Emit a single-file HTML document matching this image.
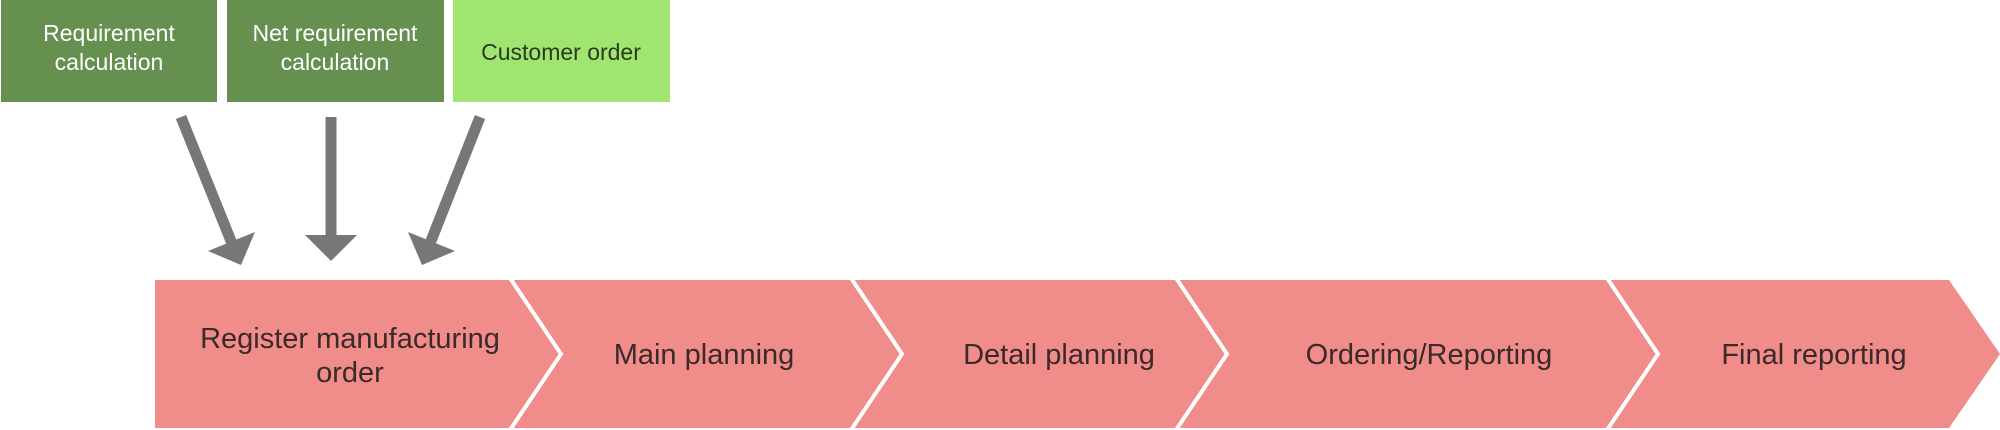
<!DOCTYPE html>
<html><head><meta charset="utf-8"><style>
html,body{margin:0;padding:0;background:#fff;width:2000px;height:430px;overflow:hidden}
svg text{font-family:"Liberation Sans",sans-serif}
</style></head><body>
<svg width="2000" height="430" viewBox="0 0 2000 430">
<rect x="1" y="0" width="216" height="102" fill="#66904f"/>
<rect x="227" y="0" width="217" height="102" fill="#66904f"/>
<rect x="453" y="0" width="217" height="102" fill="#9fe570"/>
<g font-size="23" text-anchor="middle" fill="#fff">
<text x="109" y="41">Requirement</text><text x="109" y="70">calculation</text>
<text x="335" y="41">Net requirement</text><text x="335" y="70">calculation</text>
</g>
<text x="561" y="60" font-size="23" text-anchor="middle" fill="#2b3a1f">Customer order</text>
<g stroke="#777" stroke-width="11" fill="none">
<line x1="181" y1="117" x2="233" y2="246"/>
<line x1="331" y1="117" x2="331" y2="240"/>
<line x1="480" y1="117" x2="429" y2="246"/>
</g>
<g fill="#777">
<polygon points="241,265 208,251 255,232"/>
<polygon points="331,261 305,235 357,235"/>
<polygon points="422,265 408,232 455,251"/>
</g>
<polygon points="155,280 1949,280 2000,354 1949,428 155,428" fill="#f08c89"/>
<g stroke="#fff" stroke-width="4" fill="none">
<polyline points="510,278 561,354 510,430"/>
<polyline points="851,278 902,354 851,430"/>
<polyline points="1176,278 1227,354 1176,430"/>
<polyline points="1607,278 1658,354 1607,430"/>
</g>
<g font-size="29" text-anchor="middle" fill="#3b2a2a">
<text x="350" y="348">Register manufacturing</text>
<text x="350" y="382">order</text>
<text x="704" y="364">Main planning</text>
<text x="1059" y="364">Detail planning</text>
<text x="1429" y="364">Ordering/Reporting</text>
<text x="1814" y="364">Final reporting</text>
</g>
</svg>
</body></html>
